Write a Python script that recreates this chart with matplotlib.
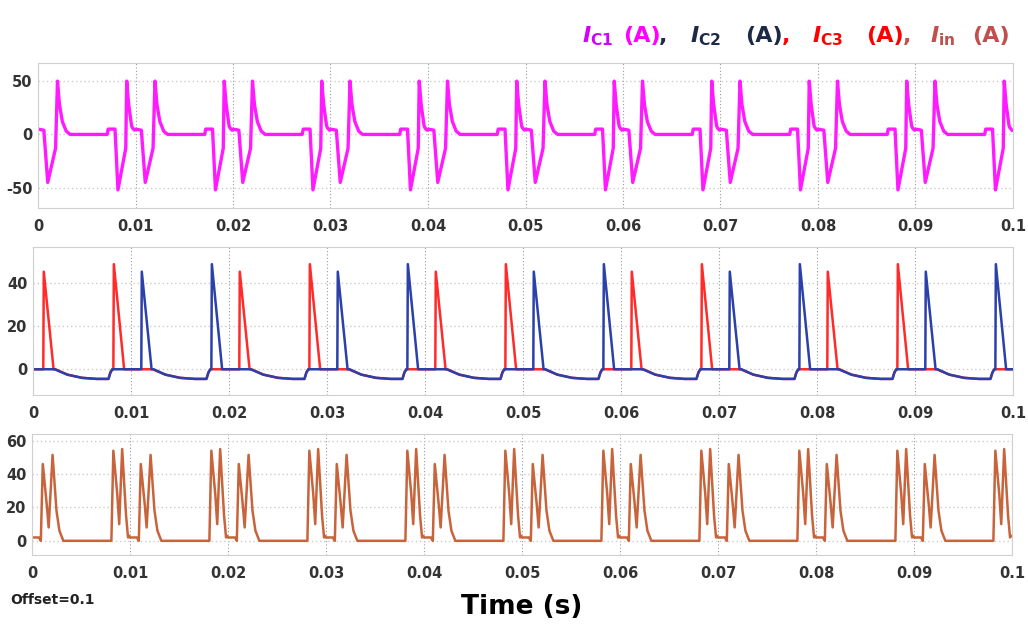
import numpy as np
import matplotlib.pyplot as plt

plt.rcParams['mathtext.fontset'] = 'custom'
plt.rcParams['mathtext.it'] = 'DejaVu Sans:italic:bold'
plt.rcParams['mathtext.rm'] = 'DejaVu Sans:bold'
plt.rcParams['axes.unicode_minus'] = False

# one switching period (s) and number of periods shown
periodo = 0.01
n_ciclos = 10

# I_C1 : one period
ic1_t = [0.0000, 0.0006, 0.0010, 0.0018, 0.0020, 0.0022, 0.0025, 0.0029, 0.0033,
         0.0071, 0.0072, 0.0079, 0.0082, 0.0090, 0.0091, 0.0093, 0.0096, 0.0097, 0.0099]
ic1_v = [5, 4, -45, -13, 50, 28, 12, 3, 0,
         0, 5, 5, -52, -13, 50, 28, 8, 6, 4]

# I_C2 / I_C3 : period where the current conducts (peaks) and idle period
ativo_t = [0.0000, 0.00105, 0.0011, 0.0021, 0.0023, 0.0035, 0.0050, 0.0065,
           0.0077, 0.0079, 0.0081, 0.0082, 0.00825, 0.0093, 0.0099]
ativo_v = [0, 0, 45.5, 0, 0, -2.5, -4, -4.5,
           -4.5, -1.5, 0, 0, 49, 0, 0]
inativo_t = [0.0000, 0.0022, 0.0035, 0.0050, 0.0065, 0.0077, 0.0079, 0.0081, 0.0099]
inativo_v = [0, 0, -2.5, -4, -4.5, -4.5, -1.5, 0, 0]
ic3_ativo = [1, 0, 1, 0, 1, 0, 1, 0, 1, 0]   # red conducts on even periods
ic2_ativo = [0, 1, 0, 1, 0, 1, 0, 1, 0, 1]   # blue on odd periods

# I_in : one period
iin_t = [0.0000, 0.0007, 0.0009, 0.0011, 0.0015, 0.0017, 0.0021, 0.0025, 0.0028,
         0.0032, 0.0081, 0.0083, 0.0087, 0.0089, 0.0092, 0.0096, 0.0098, 0.0099]
iin_v = [2, 2, 0, 46, 22, 8, 51.5, 18, 6,
         0, 0, 54, 28, 10, 55, 15, 2, 3]

xticks = [0, 0.01, 0.02, 0.03, 0.04, 0.05, 0.06, 0.07, 0.08, 0.09, 0.1]
xticklabels = ['0', '0.01', '0.02', '0.03', '0.04', '0.05', '0.06', '0.07', '0.08', '0.09', '0.1']


def repete(tt, vv, n):
    t = np.concatenate([np.array(tt) + k * periodo for k in range(n)])
    v = np.concatenate([np.array(vv, dtype=float) for k in range(n)])
    return t, v


def monta(flags):
    ts, vs = [], []
    for k, f in enumerate(flags):
        tt, vv = (ativo_t, ativo_v) if f else (inativo_t, inativo_v)
        ts.append(np.array(tt) + k * periodo)
        vs.append(np.array(vv, dtype=float))
    return np.concatenate(ts), np.concatenate(vs)


t1, v1 = repete(ic1_t, ic1_v, n_ciclos)
t3, v3 = repete(iin_t, iin_v, n_ciclos)
tr, vr = monta(ic3_ativo)
tb, vb = monta(ic2_ativo)

W, H = 1028, 633
fig = plt.figure(figsize=(W / 100, H / 100), dpi=100)


def eixo(x0, x1, y0, y1):
    return fig.add_axes([x0 / W, 1 - y1 / H, (x1 - x0) / W, (y1 - y0) / H])


ax1 = eixo(38, 1013, 63, 208)
ax2 = eixo(33, 1013, 247, 395)
ax3 = eixo(32, 1012, 434, 555)

ax1.plot(t1, v1, color='#ff1aff', lw=2.4)
ax2.plot(tr, vr, color='#ff2a2a', lw=1.8)
ax2.plot(tb, vb, color='#2b40a8', lw=1.8)
ax3.plot(t3, v3, color='#c8643c', lw=1.8)

ax1.set_ylim(-69, 67)
ax1.set_yticks([-50, 0, 50])
ax2.set_ylim(-12, 57)
ax2.set_yticks([0, 20, 40])
ax3.set_ylim(-8.5, 64)
ax3.set_yticks([0, 20, 40, 60])

for ax in [ax1, ax2, ax3]:
    ax.set_xlim(0, 0.1)
    ax.set_xticks(xticks)
    ax.set_xticklabels(xticklabels)
    ax.tick_params(length=0, labelsize=10.5, labelcolor='#333333')
    ax.tick_params(axis='x', pad=8)
    ax.tick_params(axis='y', pad=4)
    ax.grid(axis='y', color='#cccccc', linestyle=(0, (1, 2)), lw=1)
    ax.grid(axis='x', color='#999999', linestyle=(0, (1, 2)), lw=0.8)
    for s in ax.spines.values():
        s.set_color('#d0d0d0')
    for lab in ax.get_xticklabels() + ax.get_yticklabels():
        lab.set_fontweight('bold')

# coloured title, top right
titulo = [
    (582, r'$I_{\mathrm{C1}}$', '#d400ff'), (623, '(A)', '#ff00ff'), (659, ',', '#1c2b45'),
    (690, r'$I_{\mathrm{C2}}$', '#1c2b45'), (745, '(A)', '#1c2b45'), (782, ',', '#ff0000'),
    (812, r'$I_{\mathrm{C3}}$', '#ff0000'), (866, '(A)', '#ff0000'), (903, ',', '#c0504d'),
    (930, r'$I_{\mathrm{in}}$', '#c0504d'), (972, '(A)', '#c0504d'),
]
for x, s, c in titulo:
    fig.text(x / W, 1 - 36 / H, s, color=c, fontsize=16, fontweight='bold',
             ha='left', va='center')

fig.text(10 / W, 1 - 600 / H, 'Offset=0.1', fontsize=10, fontweight='bold',
         color='#222222', ha='left', va='center')
fig.text(522 / W, 1 - 607 / H, 'Time (s)', fontsize=19, fontweight='bold',
         family=['Liberation Sans Narrow', 'DejaVu Sans'], ha='center', va='center')

plt.savefig('out.png', dpi=100)
